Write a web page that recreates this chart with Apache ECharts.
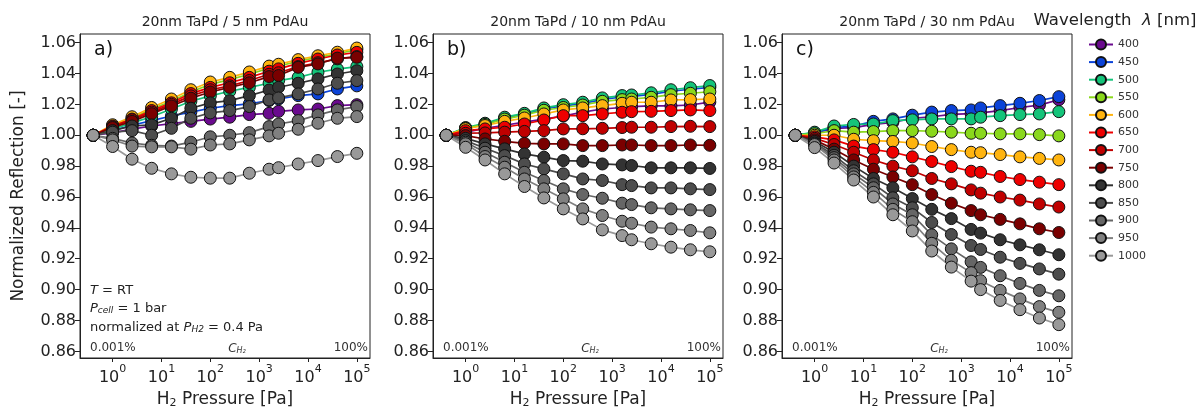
<!DOCTYPE html>
<html><head><meta charset="utf-8">
<script src="https://cdn.jsdelivr.net/npm/echarts@6/dist/echarts.min.js"></script>
<style>html,body{margin:0;padding:0;background:#fff}#c{width:1198px;height:409px}</style>
</head><body><div id="c"></div>
<script>
// ---- data ----
const pressure = [0.4, 1, 2.5, 6.3, 16, 40, 100, 250, 630, 1600, 2500, 6300, 16000, 40000, 100000];
const wavelengths = ['400','450','500','550','600','650','700','750','800','850','900','950','1000'];
const colors = ['#6a0a8e','#0b43d8','#14c47a','#8ad81c','#ffb40f','#ee0000','#c00000','#7a0000','#333333','#4d4d4d','#666666','#808080','#999999'];
const xTicks = [1, 10, 100, 1000, 10000, 100000];
const yTicks = [0.86, 0.88, 0.90, 0.92, 0.94, 0.96, 0.98, 1.00, 1.02, 1.04, 1.06];
const panelTitles = ['20nm TaPd / 5 nm PdAu', '20nm TaPd / 10 nm PdAu', '20nm TaPd / 30 nm PdAu'];
const panelLetters = ['a)', 'b)', 'c)'];

// panel a) 5 nm PdAu  (rows = wavelengths 400..1000)
const panelA = [
  [1, 1.0015, 1.004, 1.006, 1.0075, 1.009, 1.0105, 1.0117, 1.0134, 1.0142, 1.0155, 1.0164, 1.017, 1.0192, 1.0198],
  [1, 1.003, 1.0065, 1.0095, 1.0125, 1.015, 1.0175, 1.0192, 1.0203, 1.0225, 1.0235, 1.0257, 1.0268, 1.03, 1.032],
  [1, 1.004, 1.008, 1.012, 1.017, 1.022, 1.0255, 1.0285, 1.031, 1.0337, 1.0354, 1.0375, 1.0408, 1.0429, 1.0445],
  [1, 1.006, 1.011, 1.017, 1.022, 1.028, 1.033, 1.036, 1.0395, 1.0435, 1.0447, 1.048, 1.0505, 1.0528, 1.0555],
  [1, 1.0068, 1.012, 1.018, 1.0235, 1.0295, 1.0345, 1.0375, 1.041, 1.0448, 1.046, 1.049, 1.0515, 1.0538, 1.0565],
  [1, 1.006, 1.0105, 1.016, 1.021, 1.027, 1.031, 1.034, 1.0375, 1.0415, 1.043, 1.0466, 1.0494, 1.052, 1.0537],
  [1, 1.0055, 1.01, 1.015, 1.02, 1.0255, 1.0295, 1.032, 1.0355, 1.0395, 1.0405, 1.0445, 1.047, 1.0495, 1.051],
  [1, 1.005, 1.009, 1.014, 1.019, 1.024, 1.028, 1.031, 1.034, 1.038, 1.0387, 1.044, 1.0462, 1.05, 1.0505],
  [1, 1.003, 1.006, 1.0067, 1.011, 1.0175, 1.021, 1.0224, 1.0257, 1.0293, 1.0311, 1.0337, 1.0365, 1.0397, 1.0418],
  [1, 1.002, 1.003, 1.0, 1.0045, 1.011, 1.0145, 1.016, 1.0186, 1.0229, 1.0242, 1.0268, 1.03, 1.0337, 1.0354],
  [1, 0.998, 0.995, 0.9935, 0.993, 0.9955, 0.999, 1.0, 1.0017, 1.0056, 1.0073, 1.0095, 1.0132, 1.0164, 1.0186],
  [1, 0.997, 0.993, 0.9925, 0.9925, 0.991, 0.9937, 0.9944, 0.997, 0.9996, 1.0013, 1.0039, 1.0078, 1.011, 1.0121],
  [1, 0.9927, 0.9845, 0.9786, 0.975, 0.9728, 0.9722, 0.9722, 0.9754, 0.978, 0.979, 0.9814, 0.9836, 0.9862, 0.9883]
];
// panel b) 10 nm PdAu
const panelB = [
  [1, 1.002, 1.0045, 1.0065, 1.0085, 1.0105, 1.0125, 1.015, 1.017, 1.018, 1.0185, 1.019, 1.019, 1.0196, 1.0215],
  [1, 1.0045, 1.0072, 1.011, 1.0135, 1.017, 1.019, 1.0205, 1.0232, 1.0248, 1.0252, 1.0265, 1.0285, 1.0298, 1.031],
  [1, 1.005, 1.0078, 1.0117, 1.0142, 1.0177, 1.0198, 1.0214, 1.0242, 1.0257, 1.0261, 1.0275, 1.0295, 1.0308, 1.0322],
  [1, 1.0045, 1.007, 1.0105, 1.013, 1.0162, 1.018, 1.0196, 1.022, 1.0231, 1.0235, 1.0246, 1.0263, 1.0272, 1.0282],
  [1, 1.0042, 1.0063, 1.009, 1.0112, 1.0138, 1.0164, 1.0177, 1.0192, 1.0207, 1.0214, 1.0214, 1.0229, 1.0231, 1.0235],
  [1, 1.003, 1.0041, 1.0052, 1.0073, 1.0099, 1.0127, 1.0127, 1.0138, 1.0149, 1.0153, 1.0155, 1.016, 1.0164, 1.016],
  [1, 1.0013, 1.0015, 1.002, 1.0025, 1.003, 1.0041, 1.0042, 1.0045, 1.005, 1.0052, 1.0052, 1.0056, 1.0058, 1.0056],
  [1, 0.9998, 0.9976, 0.9961, 0.9948, 0.9944, 0.9944, 0.9933, 0.9933, 0.9937, 0.9937, 0.9933, 0.9933, 0.9937, 0.9935],
  [1, 0.998, 0.9944, 0.9912, 0.9879, 0.9858, 0.9836, 0.9832, 0.9814, 0.9808, 0.9804, 0.9789, 0.9789, 0.9789, 0.9785],
  [1, 0.9965, 0.9916, 0.9868, 0.9814, 0.9782, 0.975, 0.9717, 0.9707, 0.968, 0.9674, 0.9659, 0.9659, 0.9653, 0.9648],
  [1, 0.9955, 0.989, 0.9825, 0.976, 0.9707, 0.9653, 0.9616, 0.9592, 0.956, 0.9551, 0.953, 0.9523, 0.9517, 0.9512],
  [1, 0.9945, 0.9862, 0.9793, 0.9717, 0.9653, 0.9588, 0.9523, 0.948, 0.9443, 0.943, 0.9405, 0.9394, 0.9383, 0.9368],
  [1, 0.9922, 0.984, 0.975, 0.9668, 0.9594, 0.9523, 0.9458, 0.9387, 0.935, 0.9323, 0.9297, 0.9275, 0.9258, 0.9245]
];
// panel c) 30 nm PdAu
const panelC = [
  [1, 1.0015, 1.0045, 1.005, 1.007, 1.0084, 1.011, 1.012, 1.0135, 1.014, 1.0145, 1.016, 1.018, 1.0195, 1.023],
  [1, 1.0015, 1.005, 1.006, 1.009, 1.0106, 1.013, 1.015, 1.016, 1.0164, 1.0177, 1.0192, 1.0207, 1.0225, 1.025],
  [1, 1.002, 1.006, 1.007, 1.0073, 1.0095, 1.010, 1.0106, 1.0106, 1.0106, 1.0117, 1.0127, 1.0134, 1.0138, 1.0153],
  [1, 1.001, 1.003, 1.002, 1.0024, 1.003, 1.003, 1.0026, 1.002, 1.0013, 1.0013, 1.0009, 1.0009, 1.0004, 0.9996],
  [1, 1.0, 1.0, 0.9974, 0.9965, 0.996, 0.995, 0.9927, 0.9907, 0.989, 0.9887, 0.9875, 0.986, 0.985, 0.984],
  [1, 0.999, 0.997, 0.993, 0.9907, 0.989, 0.986, 0.983, 0.9797, 0.9767, 0.976, 0.9733, 0.9713, 0.9696, 0.968],
  [1, 0.998, 0.994, 0.989, 0.984, 0.980, 0.977, 0.972, 0.9685, 0.9646, 0.9625, 0.96, 0.958, 0.9555, 0.9535],
  [1, 0.997, 0.991, 0.984, 0.978, 0.973, 0.968, 0.9616, 0.956, 0.9512, 0.9485, 0.9455, 0.9426, 0.9394, 0.937],
  [1, 0.996, 0.989, 0.980, 0.972, 0.966, 0.959, 0.952, 0.946, 0.939, 0.9366, 0.9323, 0.929, 0.9258, 0.9226],
  [1, 0.995, 0.987, 0.977, 0.9685, 0.9595, 0.953, 0.9435, 0.9357, 0.9286, 0.926, 0.921, 0.917, 0.9134, 0.910],
  [1, 0.9945, 0.9855, 0.975, 0.966, 0.9555, 0.9485, 0.9355, 0.9264, 0.918, 0.9144, 0.909, 0.904, 0.8995, 0.896],
  [1, 0.994, 0.984, 0.973, 0.963, 0.952, 0.944, 0.930, 0.919, 0.911, 0.9058, 0.8995, 0.894, 0.889, 0.8853],
  [1, 0.992, 0.982, 0.971, 0.96, 0.9485, 0.938, 0.925, 0.9146, 0.9055, 0.900, 0.893, 0.887, 0.8816, 0.8773]
];
const panels = [panelA, panelB, panelC];

// ---- chart ----
const FONT = 'DejaVu Sans';
const INK = '#222';
const chart = echarts.init(document.getElementById('c'), null, {renderer: 'canvas'});
const gridLefts = [80, 433, 782];
const GW = 290, GT = 34, GH = 324;
const xMin = 0.215, xMax = 186000, yMin = 0.8557, yMax = 1.0656;

const grids = gridLefts.map(l => ({left: l, top: GT, width: GW, height: GH, show: true,
  borderColor: INK, borderWidth: 1, backgroundColor: 'transparent'}));
const xAxes = gridLefts.map((l, i) => ({
  type: 'log', logBase: 10, gridIndex: i, min: xMin, max: xMax,
  axisLine: {show: true, onZero: false, lineStyle: {color: INK, width: 1}},
  axisTick: {show: true, customValues: xTicks, length: 4, lineStyle: {color: INK}},
  minorTick: {show: false}, splitLine: {show: false},
  axisLabel: {customValues: xTicks, margin: 6, color: INK, fontFamily: FONT,
    formatter: v => '{b|10}{s|' + Math.round(Math.log10(v)) + '}',
    rich: {b: {fontSize: 16, fontFamily: FONT, color: INK, lineHeight: 22, verticalAlign: 'bottom'},
           s: {fontSize: 11, fontFamily: FONT, color: INK, lineHeight: 12, verticalAlign: 'top'}}}
}));
const yAxes = gridLefts.map((l, i) => ({
  type: 'value', gridIndex: i, min: yMin, max: yMax,
  axisLine: {show: true, onZero: false, lineStyle: {color: INK, width: 1}},
  axisTick: {show: true, customValues: yTicks, length: 5, lineStyle: {color: INK}},
  splitLine: {show: false},
  axisLabel: {customValues: yTicks, margin: 4, fontSize: 16, fontFamily: FONT, color: INK,
    formatter: v => v.toFixed(2)}
}));

const series = [];
panels.forEach((panel, p) => {
  panel.forEach((vals, w) => {
    series.push({
      type: 'line', name: wavelengths[w], xAxisIndex: p, yAxisIndex: p,
      data: pressure.map((x, i) => [x, vals[i]]),
      color: colors[w],
      symbol: 'circle', symbolSize: 12, showSymbol: true,
      lineStyle: {color: colors[w], width: 1.7},
      itemStyle: {color: colors[w], borderColor: '#111', borderWidth: 1},
      emphasis: {disabled: true}, animation: false, silent: true
    });
  });
});

const graphic = [];
gridLefts.forEach((l, i) => {
  const cx = l + GW / 2;
  graphic.push({type: 'text', x: cx, y: 22, style: {text: panelTitles[i], align: 'center', verticalAlign: 'middle',
    font: '14px "' + FONT + '"', fill: INK}});
  graphic.push({type: 'text', x: l + 14, y: 50, style: {text: panelLetters[i], align: 'left', verticalAlign: 'middle',
    font: '19px "' + FONT + '"', fill: '#111'}});
  graphic.push({type: 'text', x: l + 10, y: 348, style: {text: '0.001%', align: 'left', verticalAlign: 'middle',
    font: '12px "' + FONT + '"', fill: '#333'}});
  graphic.push({type: 'text', x: l + GW - 2, y: 348, style: {text: '100%', align: 'right', verticalAlign: 'middle',
    font: '12px "' + FONT + '"', fill: '#333'}});
  graphic.push({type: 'text', x: l + 157, y: 348, style: {text: '{i|C}{sub|H₂}', align: 'center', verticalAlign: 'middle',
    rich: {i: {fontSize: 12, fontStyle: 'italic', fontFamily: FONT, fill: '#333', lineHeight: 14, verticalAlign: 'bottom'},
           sub: {fontSize: 8, fontStyle: 'italic', fontFamily: FONT, fill: '#333', lineHeight: 8, verticalAlign: 'bottom'}}}});
  graphic.push({type: 'text', x: cx, y: 400, style: {text: 'H{sub|2} Pressure [Pa]', align: 'center', verticalAlign: 'middle',
    font: '17px "' + FONT + '"', fill: INK,
    rich: {sub: {fontSize: 11, fontFamily: FONT, fill: INK, lineHeight: 10, verticalAlign: 'bottom'}}}});
});
// panel a annotation
const annRich = {
  n: {fontSize: 13, fontFamily: FONT, fill: '#222', lineHeight: 16, verticalAlign: 'bottom'},
  i: {fontSize: 13, fontFamily: FONT, fontStyle: 'italic', fill: '#222', lineHeight: 16, verticalAlign: 'bottom'},
  sub: {fontSize: 9, fontFamily: FONT, fontStyle: 'italic', fill: '#222', lineHeight: 10, verticalAlign: 'bottom'}
};
graphic.push({type: 'text', x: 90, y: 289, style: {text: '{i|T}{n| = RT}', align: 'left', verticalAlign: 'middle', rich: annRich}});
graphic.push({type: 'text', x: 90, y: 307, style: {text: '{i|P}{sub|cell}{n| = 1 bar}', align: 'left', verticalAlign: 'middle', rich: annRich}});
graphic.push({type: 'text', x: 90, y: 326, style: {text: '{n|normalized at }{i|P}{sub|H2}{n| = 0.4 Pa}', align: 'left', verticalAlign: 'middle', rich: annRich}});
// y axis title
graphic.push({type: 'text', x: 19, y: 196, rotation: Math.PI / 2, style: {text: 'Normalized Reflection [-]', align: 'center',
  verticalAlign: 'middle', font: '17px "' + FONT + '"', fill: INK}});
// legend title
graphic.push({type: 'text', x: 1115, y: 21, style: {text: 'Wavelength  {i|λ} [nm]', align: 'center', verticalAlign: 'middle',
  font: '16.5px "' + FONT + '"', fill: INK, rich: {i: {fontSize: 16.5, fontStyle: 'italic', fontFamily: FONT, fill: INK}}}});

chart.setOption({
  animation: false,
  backgroundColor: '#fff',
  grid: grids, xAxis: xAxes, yAxis: yAxes, series: series, graphic: graphic,
  legend: {data: wavelengths, orient: 'vertical', left: 1083, top: 33.5, itemWidth: 24, itemHeight: 12.5, itemGap: 5.6,
    selectedMode: false, textStyle: {fontSize: 11, fontFamily: FONT, color: '#333', padding: [0, 0, 0, 0]}}
});
</script></body></html>
